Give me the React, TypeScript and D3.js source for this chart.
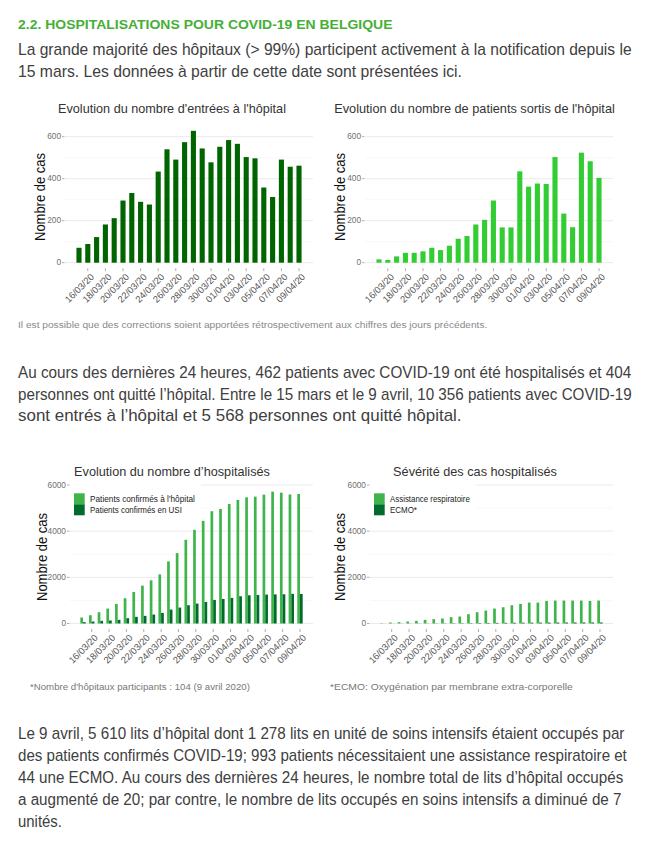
import * as d3 from "d3";
import { useEffect, useRef } from "react";

// dates 15/03 -> 09/04
const dates = [
  "15/03/20", "16/03/20", "17/03/20", "18/03/20", "19/03/20", "20/03/20", "21/03/20",
  "22/03/20", "23/03/20", "24/03/20", "25/03/20", "26/03/20", "27/03/20", "28/03/20",
  "29/03/20", "30/03/20", "31/03/20", "01/04/20", "02/04/20", "03/04/20", "04/04/20",
  "05/04/20", "06/04/20", "07/04/20", "08/04/20", "09/04/20",
];

const admissions = [71, 89, 122, 182, 212, 296, 332, 290, 277, 434, 540, 491, 574, 628, 544, 478, 552, 584, 566, 503, 497, 358, 313, 491, 457, 462];
const discharges = [16, 13, 30, 47, 47, 54, 71, 60, 81, 114, 127, 182, 204, 296, 168, 168, 435, 362, 377, 375, 503, 234, 169, 524, 483, 404];
const hospitalised = [259, 360, 489, 647, 849, 1094, 1367, 1640, 1870, 2129, 2690, 3050, 3626, 4058, 4446, 4863, 4964, 5180, 5353, 5468, 5496, 5583, 5712, 5669, 5590, 5610];
const icu = [58, 86, 115, 130, 158, 230, 288, 331, 388, 460, 604, 690, 791, 863, 935, 1021, 1065, 1108, 1180, 1223, 1237, 1252, 1261, 1267, 1285, 1278];
const respiratory = [14, 43, 58, 86, 115, 158, 187, 216, 273, 302, 403, 489, 561, 647, 705, 791, 849, 906, 906, 978, 993, 993, 993, 993, 978, 993];
const ecmo = [1, 2, 3, 4, 5, 6, 8, 10, 12, 14, 17, 20, 23, 26, 29, 32, 34, 36, 38, 40, 41, 42, 43, 44, 44, 44];

const smallTicks = [0, 200, 400, 600];
const smallMinor = [100, 300, 500];
const bigTicks = [0, 2000, 4000, 6000];
const bigMinor = [1000, 3000, 5000];

const FONT = "'Liberation Sans', Arial, sans-serif";

type Sel = d3.Selection<SVGGElement, unknown, null, undefined>;
type Series = { name: string; values: number[]; color: string; labelW: number };
type ChartCfg = {
  title: string;
  titleX: number;
  titleY: number;
  titleW: number;
  left: number;
  right: number;
  y0: number;
  yTop: number;
  yMax: number;
  ticks: number[];
  minor: number[];
  padIn: number;
  padOut: number;
  yTitleX: number;
  yTitleY: number;
  series: Series[];
  legend: boolean;
};

const charts: ChartCfg[] = [
  {
    title: "Evolution du nombre d'entrées à l'hôpital",
    titleX: 172, titleY: 113, titleW: 228,
    left: 65, right: 313, y0: 262.7, yTop: 136.7, yMax: 600,
    ticks: smallTicks, minor: smallMinor, padIn: 0.42, padOut: 1.3,
    yTitleX: 45, yTitleY: 197,
    series: [{ name: "entrées", values: admissions, color: "#006400", labelW: 0 }],
    legend: false,
  },
  {
    title: "Evolution du nombre de patients sortis de l'hôpital",
    titleX: 474.5, titleY: 113, titleW: 281,
    left: 365, right: 613, y0: 262.7, yTop: 136.7, yMax: 600,
    ticks: smallTicks, minor: smallMinor, padIn: 0.42, padOut: 1.3,
    yTitleX: 345, yTitleY: 197,
    series: [{ name: "sortis", values: discharges, color: "#32cd32", labelW: 0 }],
    legend: false,
  },
  {
    title: "Evolution du nombre d’hospitalisés",
    titleX: 172, titleY: 475.5, titleW: 196,
    left: 70, right: 313, y0: 623.5, yTop: 485, yMax: 6000,
    ticks: bigTicks, minor: bigMinor, padIn: 0.38, padOut: 1.19,
    yTitleX: 47, yTitleY: 557,
    series: [
      { name: "Patients confirmés à l'hôpital", values: hospitalised, color: "#3fb44a", labelW: 105 },
      { name: "Patients confirmés en USI", values: icu, color: "#006b2d", labelW: 92 },
    ],
    legend: true,
  },
  {
    title: "Sévérité des cas hospitalisés",
    titleX: 475, titleY: 475.5, titleW: 164,
    left: 370, right: 613, y0: 623.5, yTop: 485, yMax: 6000,
    ticks: bigTicks, minor: bigMinor, padIn: 0.38, padOut: 1.19,
    yTitleX: 345, yTitleY: 557,
    series: [
      { name: "Assistance respiratoire", values: respiratory, color: "#3fb44a", labelW: 80 },
      { name: "ECMO*", values: ecmo, color: "#006b2d", labelW: 27 },
    ],
    legend: true,
  },
];

type Line = { text: string; y: number; w: number };
const para1: Line[] = [
  { text: "La grande majorité des hôpitaux (> 99%) participent activement à la notification depuis le", y: 55, w: 614 },
  { text: "15 mars. Les données à partir de cette date sont présentées ici.", y: 76.5, w: 444 },
];
const para2: Line[] = [
  { text: "Au cours des dernières 24 heures, 462 patients avec COVID-19 ont été hospitalisés et 404", y: 378, w: 614 },
  { text: "personnes ont quitté l’hôpital. Entre le 15 mars et le 9 avril, 10 356 patients avec COVID-19", y: 399.5, w: 614 },
  { text: "sont entrés à l’hôpital et 5 568 personnes ont quitté hôpital.", y: 421, w: 444 },
];
const para3: Line[] = [
  { text: "Le 9 avril, 5 610 lits d’hôpital dont 1 278 lits en unité de soins intensifs étaient occupés par", y: 739, w: 607 },
  { text: "des patients confirmés COVID-19; 993 patients nécessitaient une assistance respiratoire et", y: 761, w: 609 },
  { text: "44 une ECMO. Au cours des dernières 24 heures, le nombre total de lits d’hôpital occupés", y: 783, w: 606 },
  { text: "a augmenté de 20; par contre, le nombre de lits occupés en soins intensifs a diminué de 7", y: 805, w: 604 },
  { text: "unités.", y: 827, w: 44 },
];

// text squeezed horizontally to a given width (the page screenshot is narrower than Arial)
function fitText(g: Sel, str: string, base: string, width: number, size: number, fill: string, anchor = "start", weight = "normal") {
  const t = g.append("text")
    .attr("text-anchor", anchor)
    .attr("font-size", size)
    .attr("font-weight", weight)
    .attr("fill", fill)
    .text(str);
  const len = (t.node() as SVGTextElement).getComputedTextLength() || width;
  t.attr("transform", `${base} scale(${width / len},1)`);
  return t;
}

function drawChart(root: Sel, c: ChartCfg) {
  const g = root.append("g").attr("class", "chart");
  const x = d3.scaleBand<string>().domain(dates).range([c.left, c.right]).paddingInner(c.padIn).paddingOuter(c.padOut);
  const y = d3.scaleLinear().domain([0, c.yMax]).range([c.y0, c.yTop]);

  // grid
  g.selectAll(".minor").data(c.minor).join("line").attr("class", "minor")
    .attr("x1", c.left).attr("x2", c.right)
    .attr("y1", (d) => y(d)).attr("y2", (d) => y(d))
    .attr("stroke", "#f3f3f3").attr("stroke-width", 0.6);
  g.selectAll(".major").data(c.ticks).join("line").attr("class", "major")
    .attr("x1", c.left).attr("x2", c.right)
    .attr("y1", (d) => y(d)).attr("y2", (d) => y(d))
    .attr("stroke", "#ebebeb").attr("stroke-width", 1);

  // legend background hides the grid behind it
  if (c.legend) {
    const w = d3.max(c.series, (s) => s.labelW) ?? 0;
    g.append("rect").attr("x", c.left).attr("y", 480).attr("width", 26 + w).attr("height", 40).attr("fill", "#fff");
  }

  // bars
  const sub = d3.scaleBand<number>().domain(d3.range(c.series.length)).range([0, x.bandwidth()]);
  c.series.forEach((s, si) => {
    g.append("g").selectAll("rect").data(s.values).join("rect")
      .attr("x", (d, i) => (x(dates[i]) ?? 0) + (sub(si) ?? 0))
      .attr("y", (d) => y(d))
      .attr("width", sub.bandwidth())
      .attr("height", (d) => y(0) - y(d))
      .attr("fill", s.color);
  });

  // y axis
  g.selectAll(".ytick").data(c.ticks).join("text").attr("class", "ytick")
    .attr("x", c.left - 4).attr("y", (d) => y(d)).attr("dy", "0.33em")
    .attr("text-anchor", "end").attr("font-size", 8.3).attr("fill", "#707070")
    .text((d) => String(d));
  g.selectAll(".ytickmark").data(c.ticks).join("line").attr("class", "ytickmark")
    .attr("x1", c.left - 3).attr("x2", c.left - 0.5)
    .attr("y1", (d) => y(d)).attr("y2", (d) => y(d))
    .attr("stroke", "#999").attr("stroke-width", 0.8);

  // x axis: every other date from 16/03
  const shown = dates.filter((d, i) => i % 2 === 1);
  const cx = (d: string) => (x(d) ?? 0) + x.bandwidth() / 2;
  g.selectAll(".xtickmark").data(shown).join("line").attr("class", "xtickmark")
    .attr("x1", cx).attr("x2", cx)
    .attr("y1", c.y0 + 5.5).attr("y2", c.y0 + 8.5)
    .attr("stroke", "#999").attr("stroke-width", 0.8);
  g.selectAll(".xtick").data(shown).join("text").attr("class", "xtick")
    .attr("transform", (d) => `translate(${cx(d) + 2},${c.y0 + 10}) rotate(-45)`)
    .attr("dy", "0.72em")
    .attr("text-anchor", "end").attr("font-size", 9.4).attr("fill", "#555")
    .text((d) => d);

  // titles
  fitText(g, c.title, `translate(${c.titleX},${c.titleY})`, c.titleW, 13, "#333", "middle");
  fitText(g, "Nombre de cas", `translate(${c.yTitleX},${c.yTitleY}) rotate(-90)`, 88, 15.5, "#111", "middle");

  // legend
  if (c.legend) {
    c.series.forEach((s, si) => {
      g.append("rect").attr("x", c.left + 4).attr("y", 493.3 + si * 11)
        .attr("width", 10.7).attr("height", 11).attr("fill", s.color);
      fitText(g, s.name, `translate(${c.left + 20},${501.5 + si * 11.5})`, s.labelW, 8.5, "#222");
    });
  }
}

export default function App() {
  const svgRef = useRef<SVGSVGElement>(null);

  useEffect(() => {
    if (!svgRef.current) return;
    const svg = d3.select(svgRef.current);
    svg.selectAll("g").remove();
    const root = svg.append("g").style("font-family", FONT) as unknown as Sel;

    // header, paragraphs and notes
    fitText(root, "2.2. HOSPITALISATIONS POUR COVID-19 EN BELGIQUE", "translate(18,29)", 375, 12.5, "#45b035", "start", "bold");
    [...para1, ...para2, ...para3].forEach((l) => fitText(root, l.text, `translate(18,${l.y})`, l.w, 16, "#404040"));
    fitText(root, "Il est possible que des corrections soient apportées rétrospectivement aux chiffres des jours précédents.", "translate(18,328)", 470, 9, "#8a8a8a");
    fitText(root, "*Nombre d'hôpitaux participants : 104 (9 avril 2020)", "translate(30,690)", 220, 9.5, "#777");
    fitText(root, "*ECMO: Oxygénation par membrane extra-corporelle", "translate(330,690)", 243, 9.5, "#777");

    charts.forEach((c) => drawChart(root, c));
  }, []);

  return (
    <div style={{ position: "absolute", left: 0, top: 0 }}>
      <svg ref={svgRef} width={650} height={845} style={{ display: "block", background: "#fff", fontFamily: FONT }} />
    </div>
  );
}
